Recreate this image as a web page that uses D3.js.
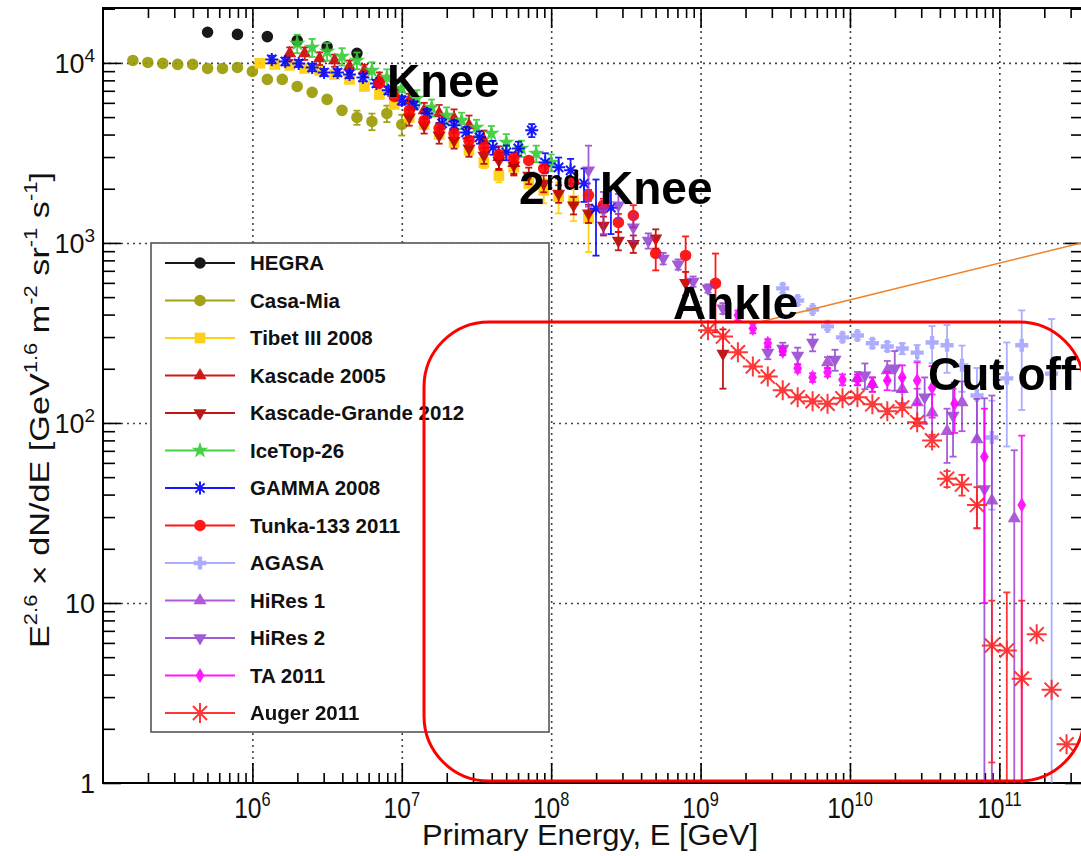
<!DOCTYPE html>
<html>
<head>
<meta charset="utf-8">
<script src="https://cdn.jsdelivr.net/npm/d3@7"></script>
<style>
body { margin: 0; background: #fff; }
text { font-family: "Liberation Sans", Arial, Helvetica, sans-serif; }
</style>
</head>
<body>
<div id="chart"></div>
<script>
// values: log10(E/GeV), E^2.6 dN/dE, error
var hegraLogE = [5.7, 5.9, 6.1, 6.3, 6.5, 6.7];
var hegraFlux = [14800, 14400, 14000, 13300, 12300, 11300];
var hegraErr  = [0, 0, 0, 0, 0, 0];

var casaLogE = [5.2, 5.3, 5.4, 5.5, 5.6, 5.7, 5.8, 5.9, 6.0, 6.1, 6.2, 6.3, 6.4, 6.5, 6.6, 6.7, 6.8, 6.9, 7.0];
var casaFlux = [10320, 10060, 9940, 9810, 9810, 9320, 9320, 9440, 8970, 8100, 8100, 7400, 6860, 6270, 5450, 4980, 4730, 5240, 4550];
var casaErr  = [0, 0, 0, 0, 0, 0, 0, 0, 0, 0, 0, 0, 0, 0, 250, 450, 500, 550, 600];

var tibetLogE = [6.05, 6.15, 6.25, 6.35, 6.45, 6.55, 6.65, 6.75, 6.85, 6.95, 7.05, 7.15, 7.25, 7.35, 7.45, 7.55, 7.65, 7.75, 7.85, 7.95, 8.05, 8.15, 8.25];
var tibetFlux = [9940, 9810, 9690, 9320, 9080, 8630, 8100, 7400, 6680, 5880, 4980, 4550, 4010, 3620, 3270, 2800, 2370, 2630, 2140, 1960, 1810, 1720, 1370];
var tibetErr  = [200, 200, 200, 200, 200, 200, 200, 200, 200, 200, 200, 200, 200, 200, 200, 200, 200, 250, 250, 300, 350, 400, 480];

var kascadeLogE = [6.25, 6.35, 6.45, 6.55, 6.65, 6.75, 6.85, 6.95, 7.05, 7.15, 7.25, 7.35, 7.45, 7.55, 7.65, 7.75];
var kascadeFlux = [11290, 11290, 10590, 10320, 9560, 9080, 8200, 7220, 6190, 5450, 5240, 4920, 4500, 3710, 2990, 2770];
var kascadeErr  = [900, 900, 850, 800, 750, 700, 650, 600, 550, 550, 600, 600, 600, 500, 450, 400];

var kgLogE = [7.05, 7.15, 7.25, 7.35, 7.45, 7.55, 7.65, 7.75, 7.85, 7.95, 8.05, 8.15, 8.25, 8.35, 8.45, 8.55, 8.70, 8.90, 9.15];
var kgFlux = [4980, 4500, 3960, 3710, 3350, 3060, 2870, 2700, 2370, 2140, 1880, 1620, 1460, 1250, 1030, 990, 1060, 600, 243];
var kgErr  = [500, 450, 400, 370, 340, 310, 290, 280, 250, 230, 210, 180, 170, 150, 120, 110, 130, 90, 88];

var icetopLogE = [6.3, 6.4, 6.5, 6.6, 6.7, 6.8, 6.9, 7.0, 7.1, 7.2, 7.3, 7.4, 7.5, 7.6, 7.7, 7.8, 7.9, 8.0];
var icetopFlux = [12830, 12190, 11580, 10870, 10320, 9080, 8310, 7220, 6350, 5660, 5110, 4790, 4380, 4060, 3620, 3350, 3140, 2800];
var icetopErr  = [1500, 1400, 1300, 1200, 1100, 1000, 900, 800, 700, 600, 550, 500, 450, 400, 400, 350, 330, 300];

var gammaLogE = [6.13, 6.22, 6.31, 6.40, 6.48, 6.57, 6.65, 6.74, 6.83, 6.91, 7.00, 7.08, 7.17, 7.27, 7.35, 7.43, 7.52, 7.61, 7.70, 7.78, 7.87, 7.96, 8.05, 8.13, 8.22, 8.30, 8.40];
var gammaFlux = [10460, 10190, 9940, 9440, 8850, 8850, 8630, 8310, 7690, 7040, 6190, 5810, 5240, 4610, 4500, 4110, 3860, 3390, 3180, 3350, 4220, 2800, 2630, 2530, 2140, 1550, 1570];
var gammaErr  = [500, 500, 450, 450, 400, 400, 400, 400, 350, 350, 350, 300, 300, 300, 300, 300, 300, 300, 300, 300, 350, 350, 350, 400, 450, 700, 450];

var tunkaLogE = [6.85, 6.95, 7.05, 7.15, 7.25, 7.35, 7.45, 7.55, 7.65, 7.75, 7.85, 7.95, 8.15, 8.25, 8.35, 8.45, 8.55, 8.70, 8.90, 9.10];
var tunkaFlux = [7690, 6510, 5450, 4790, 4330, 4060, 3710, 3390, 3100, 2950, 2870, 2590, 2170, 1840, 1620, 1300, 1420, 874, 852, 596];
var tunkaErr  = [300, 250, 200, 180, 160, 150, 140, 130, 120, 120, 120, 120, 120, 130, 140, 150, 200, 170, 235, 277];

var agasaLogE = [9.55, 9.65, 9.75, 9.85, 9.95, 10.05, 10.15, 10.25, 10.35, 10.45, 10.55, 10.65, 10.75, 10.85, 10.95, 11.05, 11.15, 11.35];
var agasaFlux = [559, 479, 427, 344, 299, 306, 277, 266, 259, 246, 280, 270, 209, 142, 83, 177, 270, 188];
var agasaErr  = [30, 25, 20, 15, 15, 15, 15, 15, 18, 25, 65, 80, 60, 60, 50, 103, 152, 190];

var hires1LogE = [9.85, 10.05, 10.15, 10.25, 10.35, 10.45, 10.55, 10.65, 10.75, 10.85, 10.95, 11.10];
var hires1Flux = [217, 177, 164, 196, 154, 130, 114, 90, 130, 81, 37, 29.5];
var hires1Err  = [15, 15, 15, 25, 25, 25, 30, 30, 40, 55, 105, 41];

var hires2LogE = [8.25, 8.35, 8.45, 8.55, 8.65, 8.75, 8.85, 8.95, 9.05, 9.15, 9.45, 9.55, 9.65, 9.75, 9.90, 10.10, 10.30, 10.50, 10.69, 10.90];
var hires2Flux = [2530, 1520, 1620, 1220, 1030, 820, 760, 611, 559, 433, 246, 259, 237, 280, 225, 184, 201, 139, 110, 43];
var hires2Err  = [940, 400, 250, 200, 100, 60, 50, 40, 30, 30, 20, 20, 25, 30, 30, 30, 50, 40, 45, 94];

var taLogE = [9.25, 9.35, 9.45, 9.55, 9.65, 9.75, 9.85, 9.95, 10.05, 10.15, 10.25, 10.35, 10.45, 10.55, 10.70, 10.90, 11.15];
var taFlux = [396, 335, 277, 250, 201, 179, 191, 174, 174, 164, 172, 179, 172, 157, 128, 65, 35];
var taErr  = [25, 20, 15, 12, 10, 10, 10, 12, 12, 15, 20, 30, 45, 50, 40, 55, 50];

var augerLogE = [9.05, 9.15, 9.25, 9.35, 9.45, 9.55, 9.65, 9.75, 9.85, 9.95, 10.05, 10.15, 10.25, 10.35, 10.45, 10.55, 10.65, 10.75, 10.85, 10.95, 11.05, 11.15, 11.25, 11.35, 11.45];
var augerFlux = [327, 302, 247, 206, 181, 152, 139, 132, 128, 137, 139, 127, 116, 122, 101, 80, 49, 45.5, 35, 5.8, 5.45, 3.8, 6.7, 3.3, 1.64];
var augerErr  = [8, 7, 5, 4, 4, 3, 3, 3, 3, 3, 3, 3, 4, 4, 5, 6, 5, 6, 9, 4.5, 6, 6.5, 0, 0, 0];

var xMajor = [1e6, 1e7, 1e8, 1e9, 1e10, 1e11];
var xMajorExp = ["6", "7", "8", "9", "10", "11"];
var yMajor = [1, 10, 100, 1000, 10000];
var yMajorLabel = [["1", ""], ["10", ""], ["10", "2"], ["10", "3"], ["10", "4"]];

// series list in draw / legend order
var series = [
  {name: "HEGRA",               e: hegraLogE,   f: hegraFlux,   s: hegraErr,   color: "#000000", shape: "circle"},
  {name: "Casa-Mia",            e: casaLogE,    f: casaFlux,    s: casaErr,    color: "#999900", shape: "circle"},
  {name: "Tibet III 2008",      e: tibetLogE,   f: tibetFlux,   s: tibetErr,   color: "#ffcc00", shape: "square"},
  {name: "Kascade 2005",        e: kascadeLogE, f: kascadeFlux, s: kascadeErr, color: "#cc0000", shape: "tri"},
  {name: "Kascade-Grande 2012", e: kgLogE,      f: kgFlux,      s: kgErr,      color: "#b80000", shape: "triDown"},
  {name: "IceTop-26",           e: icetopLogE,  f: icetopFlux,  s: icetopErr,  color: "#33cc33", shape: "star"},
  {name: "GAMMA 2008",          e: gammaLogE,   f: gammaFlux,   s: gammaErr,   color: "#0000ff", shape: "asterisk", r: 6.5},
  {name: "Tunka-133 2011",      e: tunkaLogE,   f: tunkaFlux,   s: tunkaErr,   color: "#ff0000", shape: "circle"},
  {name: "AGASA",               e: agasaLogE,   f: agasaFlux,   s: agasaErr,   color: "#9999ff", shape: "cross", op: 0.8},
  {name: "HiRes 1",             e: hires1LogE,  f: hires1Flux,  s: hires1Err,  color: "#9933cc", shape: "tri", op: 0.8},
  {name: "HiRes 2",             e: hires2LogE,  f: hires2Flux,  s: hires2Err,  color: "#8a33cc", shape: "triDown", op: 0.8},
  {name: "TA 2011",             e: taLogE,      f: taFlux,      s: taErr,      color: "#ff00ff", shape: "diamond"},
  {name: "Auger 2011",          e: augerLogE,   f: augerFlux,   s: augerErr,   color: "#ff2222", shape: "asterisk", r: 10}
];

var W = 1081, H = 856;
var plotL = 103, plotR = 1083, plotT = 8, plotB = 783;

var x = d3.scaleLog().domain([1e5, Math.pow(10, 11.56)]).range([plotL, plotR]);
var y = d3.scaleLog().domain([1, Math.pow(10, 4.305)]).range([plotB, plotT]);

var svg = d3.select("#chart").append("svg")
    .attr("width", W)
    .attr("height", H);

// minor tick values
var xMinor = [], yMinor = [];
for (var d = 5; d <= 11; d++) {
  for (var k = 2; k <= 9; k++) {
    var v = k * Math.pow(10, d);
    if (v < x.domain()[1]) xMinor.push(v);
  }
}
for (var d2 = 0; d2 <= 4; d2++) {
  for (var k2 = 2; k2 <= 9; k2++) {
    var v2 = k2 * Math.pow(10, d2);
    if (v2 < y.domain()[1]) yMinor.push(v2);
  }
}

// dotted grid
svg.append("g")
    .attr("class", "grid")
    .attr("transform", "translate(0," + plotB + ")")
    .call(d3.axisBottom(x).tickValues(xMajor).tickSize(-(plotB - plotT)).tickFormat(""))
    .call(function(g) { g.select(".domain").remove(); });
svg.append("g")
    .attr("class", "grid")
    .attr("transform", "translate(" + plotL + ",0)")
    .call(d3.axisLeft(y).tickValues(yMajor.slice(1)).tickSize(-(plotR - plotL)).tickFormat(""))
    .call(function(g) { g.select(".domain").remove(); });
svg.selectAll(".grid line")
    .attr("stroke", "#444")
    .attr("stroke-width", 1.6)
    .attr("stroke-dasharray", "2,4");

// frame
svg.append("rect")
    .attr("x", plotL).attr("y", plotT)
    .attr("width", plotR - plotL).attr("height", plotB - plotT)
    .attr("fill", "none").attr("stroke", "#000").attr("stroke-width", 2);

// ticks on all four sides
function ticks(axisFn, scale, values, size, tr) {
  svg.append("g")
      .attr("class", "ticks")
      .attr("transform", tr)
      .call(axisFn(scale).tickValues(values).tickSize(size).tickFormat(""))
      .call(function(g) { g.select(".domain").remove(); });
}
ticks(d3.axisTop, x, xMajor, 20, "translate(0," + plotB + ")");
ticks(d3.axisTop, x, xMinor, 10, "translate(0," + plotB + ")");
ticks(d3.axisBottom, x, xMajor, 20, "translate(0," + plotT + ")");
ticks(d3.axisBottom, x, xMinor, 10, "translate(0," + plotT + ")");
ticks(d3.axisRight, y, yMajor, 18, "translate(" + plotL + ",0)");
ticks(d3.axisRight, y, yMinor, 12, "translate(" + plotL + ",0)");
ticks(d3.axisLeft, y, yMajor, 18, "translate(" + plotR + ",0)");
ticks(d3.axisLeft, y, yMinor, 12, "translate(" + plotR + ",0)");
svg.selectAll(".ticks line").attr("stroke", "#000").attr("stroke-width", 1.6);

// tick labels
xMajor.forEach(function(v, i) {
  var t = svg.append("text")
      .attr("transform", "translate(" + x(v) + ",818) scale(0.82,1)")
      .attr("text-anchor", "middle")
      .attr("font-size", 30)
      .attr("fill", "#111");
  t.append("tspan").text("10");
  t.append("tspan").attr("font-size", 20).attr("dy", -12).text(xMajorExp[i]);
});
yMajor.forEach(function(v, i) {
  var t = svg.append("text")
      .attr("x", 95).attr("y", y(v) + 10)
      .attr("text-anchor", "end")
      .attr("font-size", 27)
      .attr("fill", "#111");
  t.append("tspan").text(yMajorLabel[i][0]);
  if (yMajorLabel[i][1]) t.append("tspan").attr("font-size", 19).attr("dy", -11).text(yMajorLabel[i][1]);
});

// axis titles
svg.append("text")
    .attr("x", 590).attr("y", 845)
    .attr("text-anchor", "middle")
    .attr("font-size", 30)
    .attr("fill", "#111")
    .attr("textLength", 336)
    .attr("lengthAdjust", "spacingAndGlyphs")
    .text("Primary Energy, E [GeV]");

var yt = svg.append("text")
    .attr("transform", "translate(49,410) rotate(-90)")
    .attr("text-anchor", "middle")
    .attr("font-size", 28)
    .attr("fill", "#111")
    .attr("textLength", 476)
    .attr("lengthAdjust", "spacingAndGlyphs");
[["E", 0], ["2.6", 1], [" \u00d7 dN/dE [GeV", 0], ["1.6", 1], [" m", 0], ["-2", 1],
 [" sr", 0], ["-1", 1], [" s", 0], ["-1", 1], ["]", 0]].forEach(function(p, i, arr) {
  var prevSup = i > 0 && arr[i - 1][1];
  var ts = yt.append("tspan").text(p[0]);
  if (p[1]) ts.attr("font-size", 18).attr("dy", -12);
  else if (prevSup) ts.attr("dy", 12);
});

// markers
function asteriskPath(r) {
  var a = r * 0.7071;
  return "M" + (-r) + ",0L" + r + ",0M0," + (-r) + "L0," + r +
         "M" + (-a) + "," + (-a) + "L" + a + "," + a +
         "M" + (-a) + "," + a + "L" + a + "," + (-a);
}
function drawMarker(g, s) {
  if (s.shape === "asterisk") {
    g.append("path").attr("d", asteriskPath(s.r))
        .attr("fill", "none").attr("stroke", s.color).attr("stroke-width", 2);
    return;
  }
  var type = {circle: d3.symbolCircle, square: d3.symbolSquare, tri: d3.symbolTriangle,
              triDown: d3.symbolTriangle, star: d3.symbolStar, cross: d3.symbolCross,
              diamond: d3.symbolDiamond}[s.shape];
  var size = {circle: 105, square: 115, tri: 75, triDown: 75, star: 85, cross: 95, diamond: 66}[s.shape];
  var p = g.append("path").attr("d", d3.symbol().type(type).size(size)()).attr("fill", s.color);
  if (s.shape === "triDown") p.attr("transform", "rotate(180)");
}

var plot = svg.append("g");
series.forEach(function(s) {
  var pts = s.e.map(function(le, i) { return {E: Math.pow(10, le), F: s.f[i], S: s.s[i]}; });
  var g = plot.append("g").attr("opacity", s.op || 0.9);

  var bars = g.selectAll(".bar").data(pts.filter(function(p) { return p.S > 0; }))
    .enter().append("g").attr("class", "bar");
  bars.each(function(p) {
    var b = d3.select(this);
    var cx = x(p.E);
    var y1 = y(p.F + p.S);
    var lo = p.F - p.S;
    var y0 = lo > 1 ? y(lo) : plotB;
    b.append("line").attr("x1", cx).attr("x2", cx).attr("y1", y1).attr("y2", y0)
        .attr("stroke", s.color).attr("stroke-width", 1.8);
    b.append("line").attr("x1", cx - 3.5).attr("x2", cx + 3.5).attr("y1", y1).attr("y2", y1)
        .attr("stroke", s.color).attr("stroke-width", 1.8);
    if (lo > 1) {
      b.append("line").attr("x1", cx - 3.5).attr("x2", cx + 3.5).attr("y1", y0).attr("y2", y0)
          .attr("stroke", s.color).attr("stroke-width", 1.8);
    }
  });

  g.selectAll(".pt").data(pts).enter().append("g")
      .attr("class", "pt")
      .attr("transform", function(p) { return "translate(" + x(p.E) + "," + y(p.F) + ")"; })
      .each(function() { drawMarker(d3.select(this), s); });
});

// legend
var legend = svg.append("g");
legend.append("rect")
    .attr("x", 151).attr("y", 243).attr("width", 398).attr("height", 489)
    .attr("fill", "#fff").attr("stroke", "#555").attr("stroke-width", 1.6);
series.forEach(function(s, i) {
  var ly = 263 + i * 37.5;
  var row = legend.append("g").attr("opacity", s.op || 0.9);
  row.append("line").attr("x1", 165).attr("x2", 235).attr("y1", ly).attr("y2", ly)
      .attr("stroke", s.color).attr("stroke-width", 1.8);
  drawMarker(row.append("g").attr("transform", "translate(200," + ly + ")"), s);
  legend.append("text")
      .attr("x", 250).attr("y", ly + 7)
      .attr("font-size", 20.5).attr("font-weight", "bold").attr("fill", "#111")
      .text(s.name);
});

// callout box and line
svg.append("line")
    .attr("x1", 760).attr("y1", 322).attr("x2", 1130).attr("y2", 231)
    .attr("stroke", "#f0832a").attr("stroke-width", 1.6);
svg.append("rect")
    .attr("x", 424).attr("y", 322).attr("width", 660).attr("height", 459)
    .attr("rx", 65).attr("ry", 65)
    .attr("fill", "none").attr("stroke", "#ff0000").attr("stroke-width", 3);

// annotations
function note(tx, ty, str, size) {
  svg.append("text").attr("x", tx).attr("y", ty)
      .attr("font-size", size).attr("font-weight", "bold").attr("fill", "#000")
      .text(str);
}
note(387, 97, "Knee", 46);
note(519, 204, "2", 46);
note(546, 190, "nd", 28);
note(600, 204, "Knee", 46);
note(673, 319, "Ankle", 46);
note(928, 390, "Cut off", 46);
</script>
</body>
</html>
